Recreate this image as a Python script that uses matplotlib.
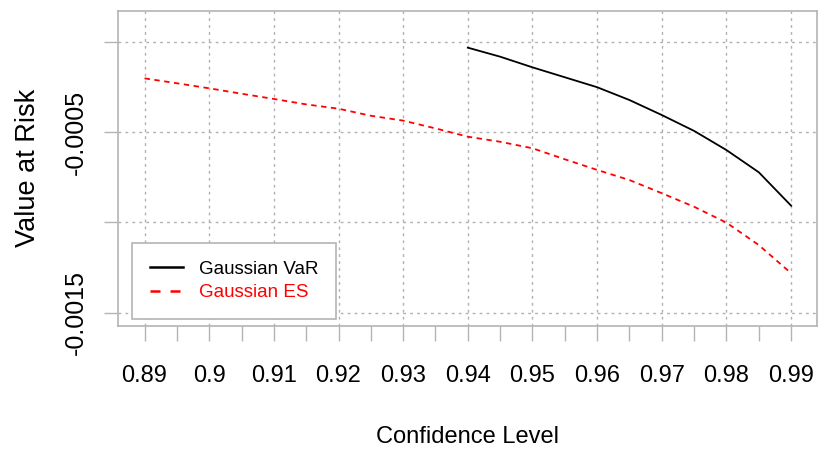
import numpy as np
import matplotlib
matplotlib.use('Agg')
import matplotlib.pyplot as plt
from matplotlib.lines import Line2D
from matplotlib.ticker import FixedLocator

# confidence levels and risk estimates
conf_es = [0.890, 0.895, 0.900, 0.905, 0.910, 0.915, 0.920, 0.925, 0.930, 0.935, 0.940,
           0.945, 0.950, 0.955, 0.960, 0.965, 0.970, 0.975, 0.980, 0.985, 0.990]
gauss_es = [-0.000203, -0.000230, -0.000258, -0.000288, -0.000317, -0.000347, -0.000371,
            -0.000410, -0.000437, -0.000480, -0.000526, -0.000554, -0.000590, -0.000651,
            -0.000710, -0.000766, -0.000839, -0.000914, -0.001002, -0.001126, -0.001282]
conf_var = [0.940, 0.945, 0.950, 0.955, 0.960, 0.965, 0.970, 0.975, 0.980, 0.985, 0.990]
gauss_var = [-0.000033, -0.000083, -0.000142, -0.000197, -0.000252, -0.000323, -0.000406,
             -0.000494, -0.000600, -0.000723, -0.000908]

xticks = [0.89, 0.90, 0.91, 0.92, 0.93, 0.94, 0.95, 0.96, 0.97, 0.98, 0.99]
xtick_labels = ['0.89', '0.9', '0.91', '0.92', '0.93', '0.94', '0.95', '0.96', '0.97', '0.98', '0.99']
xminor = [0.895, 0.905, 0.915, 0.925, 0.935, 0.945, 0.955, 0.965, 0.975, 0.985]
yticks = [0.0, -0.0005, -0.001, -0.0015]
ytick_labels = ['', '-0.0005', '', '-0.0015']

font = ['Liberation Sans', 'DejaVu Sans']
box = '#b4b4b4'

fig = plt.figure(figsize=(8.23, 4.51), dpi=100)
ax = fig.add_axes([0.1434, 0.2772, 0.8493, 0.6991])

ax.plot(conf_var, gauss_var, color='black', lw=1.3)
ax.plot(conf_es, gauss_es, color='red', lw=1.3, dashes=(3, 2.5))

ax.set_xlim(0.8859, 0.9940)
ax.set_ylim(-0.001574, 0.0001717)

ax.set_xticks(xticks)
ax.set_xticklabels(xtick_labels, fontfamily=font, fontsize=17)
ax.xaxis.set_minor_locator(FixedLocator(xminor))
ax.set_yticks(yticks)
ax.set_yticklabels(ytick_labels, fontfamily=font, fontsize=18, rotation=90, va='center')

ax.tick_params(axis='x', which='both', length=11, width=1, color=box, pad=17)
ax.tick_params(axis='y', length=10, width=1, color=box, pad=12)

ax.grid(True, which='major', color='#b0b0b0', linestyle=(0, (2, 3)), lw=1)
for s in ax.spines.values():
    s.set_color(box)
    s.set_linewidth(1.2)

ax.set_xlabel('Confidence Level', fontfamily=font, fontsize=17, labelpad=28)
ax.set_ylabel('Value at Risk', fontfamily=font, fontsize=19.5, labelpad=16)

handles = [Line2D([], [], color='black', lw=1.8),
           Line2D([], [], color='red', lw=1.8, dashes=(4, 4))]
leg = ax.legend(handles, ['Gaussian VaR', 'Gaussian ES'], loc='lower left',
                bbox_to_anchor=(0.02, 0.022), borderaxespad=0, fancybox=False,
                framealpha=1, edgecolor=box, handlelength=1.76, handletextpad=0.85,
                borderpad=0.95, labelspacing=0.35, prop={'family': font, 'size': 13.5})
leg.get_frame().set_linewidth(1.2)
leg.get_texts()[1].set_color('red')

plt.savefig('out.png', dpi=100)
